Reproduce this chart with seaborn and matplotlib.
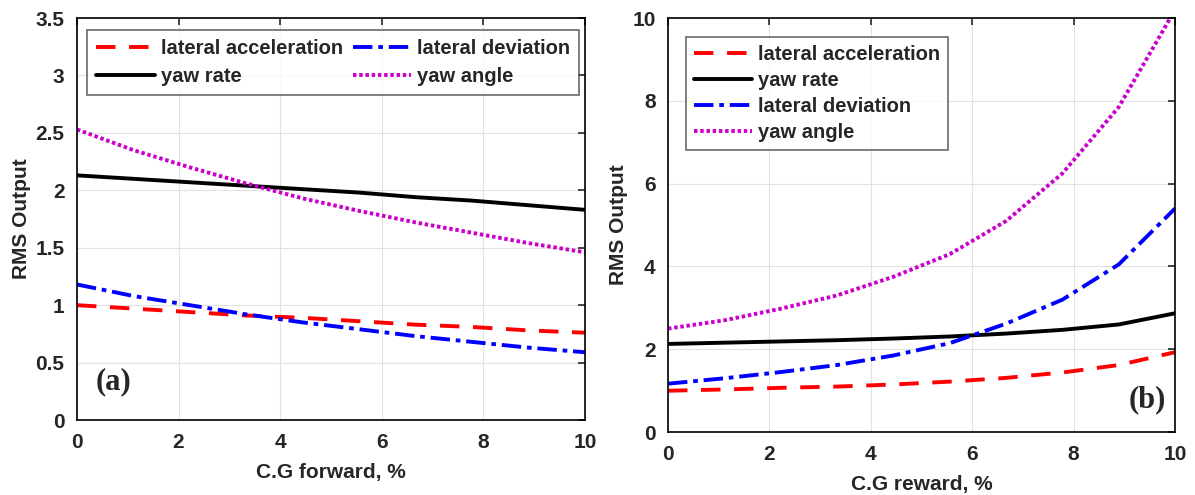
import matplotlib
matplotlib.use("Agg")
import matplotlib.pyplot as plt
import seaborn as sns
import pandas as pd

# x positions (10 samples from 0 to 10 %)
cg_shift = [0, 1.11, 2.22, 3.33, 4.44, 5.56, 6.67, 7.78, 8.89, 10]

# (a) C.G forward
fwd_lat_acc = [1.00, 0.97, 0.94, 0.91, 0.89, 0.86, 0.83, 0.81, 0.78, 0.76]
fwd_yaw_rate = [2.13, 2.10, 2.07, 2.04, 2.01, 1.98, 1.94, 1.91, 1.87, 1.83]
fwd_lat_dev = [1.18, 1.08, 1.00, 0.92, 0.85, 0.79, 0.73, 0.68, 0.63, 0.59]
fwd_yaw_angle = [2.53, 2.35, 2.20, 2.06, 1.93, 1.82, 1.72, 1.63, 1.54, 1.46]

# (b) C.G reward
rwd_lat_acc = [1.00, 1.03, 1.07, 1.10, 1.15, 1.22, 1.31, 1.44, 1.62, 1.93]
rwd_yaw_rate = [2.13, 2.16, 2.19, 2.22, 2.26, 2.31, 2.38, 2.47, 2.60, 2.87]
rwd_lat_dev = [1.17, 1.30, 1.45, 1.62, 1.85, 2.15, 2.62, 3.20, 4.05, 5.40]
rwd_yaw_angle = [2.50, 2.70, 2.98, 3.30, 3.75, 4.30, 5.10, 6.25, 7.85, 10.2]

series = ["lateral acceleration", "yaw rate", "lateral deviation", "yaw angle"]
colors = {"lateral acceleration": "#ff0000", "yaw rate": "#000000",
          "lateral deviation": "#0000ff", "yaw angle": "#cc00cc"}
styles = {"lateral acceleration": (0, (5, 3.5)), "yaw rate": "-",
          "lateral deviation": (0, (5, 1.5, 1.2, 1.5)), "yaw angle": (0, (0.9, 0.7))}

fwd = pd.DataFrame({"x": cg_shift * 4,
                    "y": fwd_lat_acc + fwd_yaw_rate + fwd_lat_dev + fwd_yaw_angle,
                    "s": sum([[s] * len(cg_shift) for s in series], [])})
rwd = pd.DataFrame({"x": cg_shift * 4,
                    "y": rwd_lat_acc + rwd_yaw_rate + rwd_lat_dev + rwd_yaw_angle,
                    "s": sum([[s] * len(cg_shift) for s in series], [])})

sns.set_theme(style="white")
plt.rcParams["font.family"] = ["Liberation Sans", "DejaVu Sans"]
plt.rcParams["font.weight"] = "bold"

fig = plt.figure(figsize=(11.95, 4.95), dpi=100)
ax1 = fig.add_axes([0.0644, 0.1515, 0.4251, 0.8121])
ax2 = fig.add_axes([0.559, 0.127, 0.4243, 0.8366])

FS = 15


def draw(ax, df):
    for s in series:
        d = df[df["s"] == s]
        sns.lineplot(data=d, x="x", y="y", ax=ax, color=colors[s],
                     linestyle=styles[s], linewidth=2.8, label=s)
    ax.grid(True, color="#e2e2e2", linewidth=0.8)
    ax.tick_params(direction="in", top=True, right=True, length=5, width=1.2,
                   labelsize=FS, pad=9)
    for lab in ax.get_xticklabels() + ax.get_yticklabels():
        lab.set_fontweight("bold")
    for sp in ax.spines.values():
        sp.set_color("black")
        sp.set_linewidth(1.2)
    ax.set_ylabel("RMS Output", fontsize=FS, fontweight="bold", labelpad=3)


draw(ax1, fwd)
ax1.set_xlim(0, 10)
ax1.set_ylim(0, 3.5)
ax1.set_xticks([0, 2, 4, 6, 8, 10])
ax1.set_yticks([0, 0.5, 1, 1.5, 2, 2.5, 3, 3.5])
ax1.set_yticklabels(["0", "0.5", "1", "1.5", "2", "2.5", "3", "3.5"])
ax1.set_xlabel("C.G forward, %", fontsize=FS, fontweight="bold", labelpad=8)
leg1 = ax1.legend(ncol=2, loc="upper left", bbox_to_anchor=(0.02, 0.97),
                  borderaxespad=0, fontsize=14.5, frameon=True, fancybox=False,
                  edgecolor="#444444", handlelength=2.9, handletextpad=0.3,
                  columnspacing=0.5, borderpad=0.45, labelspacing=0.45)
leg1.get_frame().set_linewidth(1.2)
ax1.text(0.72, 0.33, "(a)", fontsize=22, fontweight="bold",
         family=["Liberation Serif", "DejaVu Serif"], ha="center", va="center")

draw(ax2, rwd)
ax2.set_xlim(0, 10)
ax2.set_ylim(0, 10)
ax2.set_xticks([0, 2, 4, 6, 8, 10])
ax2.set_yticks([0, 2, 4, 6, 8, 10])
ax2.set_xlabel("C.G reward, %", fontsize=FS, fontweight="bold", labelpad=8)
leg2 = ax2.legend(loc="upper left", bbox_to_anchor=(0.035, 0.954),
                  borderaxespad=0, fontsize=14.5, frameon=True, fancybox=False,
                  edgecolor="#444444", handlelength=2.9, handletextpad=0.3,
                  borderpad=0.4, labelspacing=0.35)
leg2.get_frame().set_linewidth(1.2)
ax2.text(9.45, 0.78, "(b)", fontsize=22, fontweight="bold",
         family=["Liberation Serif", "DejaVu Serif"], ha="center", va="center")

fig.savefig("out.png", dpi=100)
